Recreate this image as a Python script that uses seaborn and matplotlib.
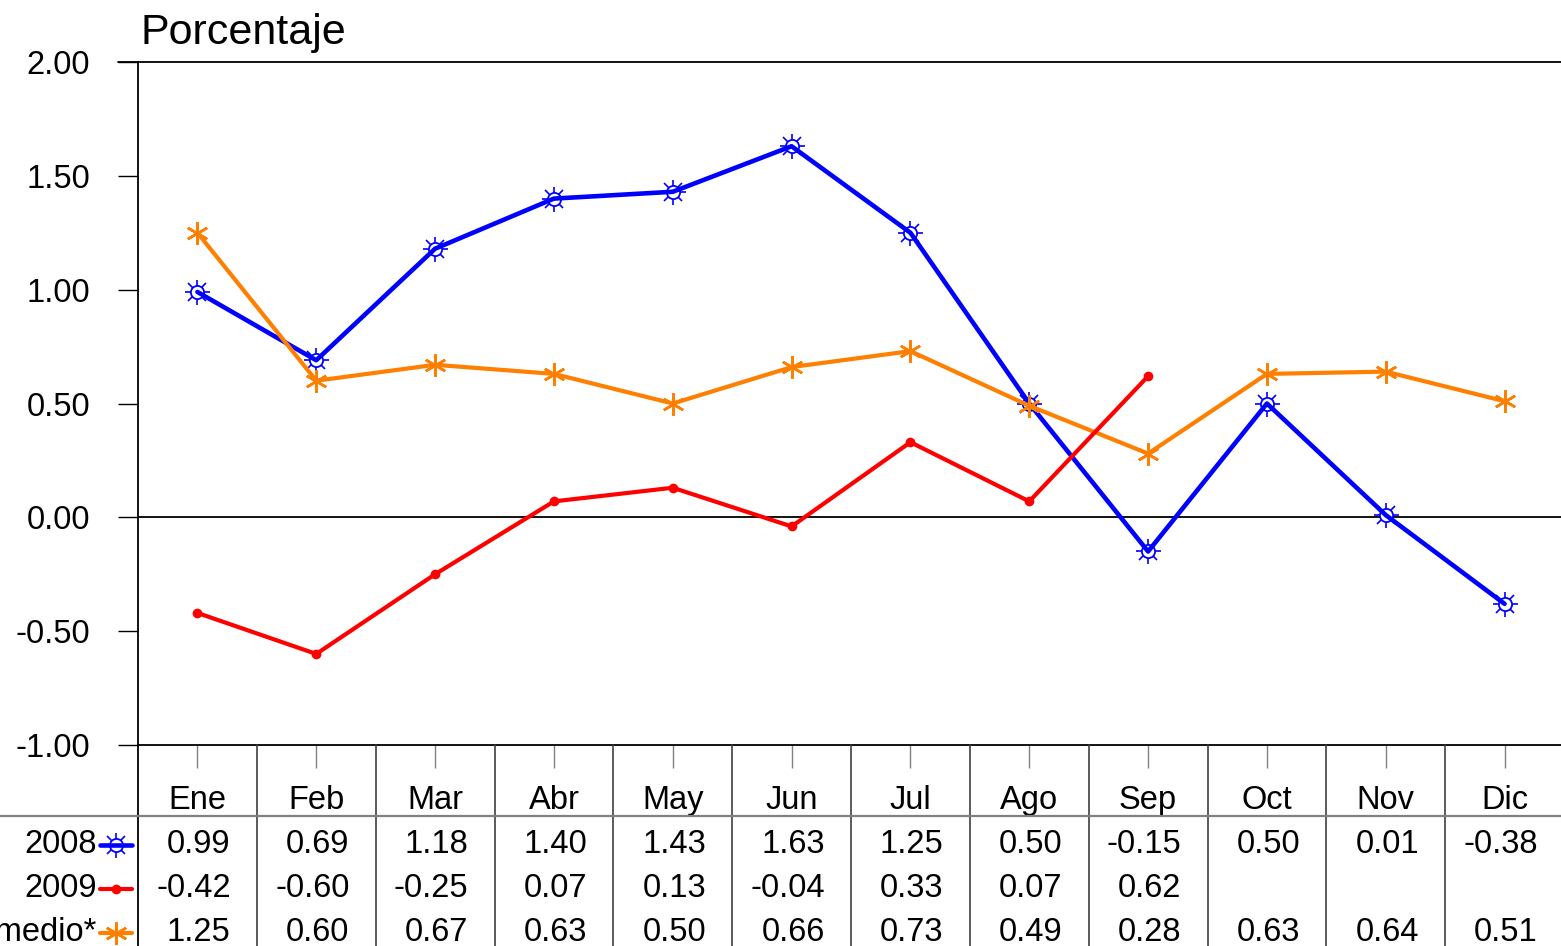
import numpy as np
import pandas as pd
import matplotlib
matplotlib.use("Agg")
import matplotlib.pyplot as plt
import seaborn as sns

# datos
meses = ['Ene', 'Feb', 'Mar', 'Abr', 'May', 'Jun', 'Jul', 'Ago', 'Sep', 'Oct', 'Nov', 'Dic']
v2008 = [0.99, 0.69, 1.18, 1.40, 1.43, 1.63, 1.25, 0.50, -0.15, 0.50, 0.01, -0.38]
v2009 = [-0.42, -0.60, -0.25, 0.07, 0.13, -0.04, 0.33, 0.07, 0.62, np.nan, np.nan, np.nan]
vmedio = [1.25, 0.60, 0.67, 0.63, 0.50, 0.66, 0.73, 0.49, 0.28, 0.63, 0.64, 0.51]
series = ['2008', '2009', 'Promedio*']
yticks = [-1.0, -0.5, 0.0, 0.5, 1.0, 1.5, 2.0]

sns.set_theme(style='white')
plt.rcParams['font.family'] = ['Liberation Sans', 'DejaVu Sans']
plt.rcParams['axes.unicode_minus'] = False
plt.rcParams['text.color'] = 'black'
plt.rcParams['xtick.labelcolor'] = 'black'
plt.rcParams['ytick.labelcolor'] = 'black'

AZUL = '#0000FF'
ROJO = '#FF0000'
NARANJA = '#FF8000'
FS = 23.5

df = pd.DataFrame({'x': np.arange(12), '2008': v2008, '2009': v2009, 'Promedio*': vmedio})

W, H = 1561, 946
fig = plt.figure(figsize=(W / 100, H / 100), dpi=100)
ax = fig.add_axes([138 / W, 1 - 745 / H, 1426 / W, 683 / H])


def marcador_sol(axis, x, y, z=1.5):
    axis.plot(x, y, ls='none', marker='+', ms=18, mew=1.2, color=AZUL, zorder=z)
    axis.plot(x, y, ls='none', marker='x', ms=12.5, mew=1.2, color=AZUL, zorder=z)
    axis.plot(x, y, ls='none', marker='o', ms=9.5, mew=1.3, mfc='white', mec=AZUL, zorder=z + 0.05)


def marcador_ast(axis, x, y, z=2.5):
    axis.plot(x, y, ls='none', marker=(6, 2, 0), ms=16, mew=1.8, color=NARANJA, zorder=z)


def marcador_pto(axis, x, y, z=2.5):
    axis.plot(x, y, ls='none', marker='o', ms=7, mew=0, color=ROJO, zorder=z)


# lineas
sns.lineplot(data=df, x='x', y='2008', ax=ax, color=AZUL, lw=3.3, zorder=2)
sns.lineplot(data=df, x='x', y='2009', ax=ax, color=ROJO, lw=3.0, zorder=2.2)
sns.lineplot(data=df, x='x', y='Promedio*', ax=ax, color=NARANJA, lw=3.0, zorder=2.1)
marcador_sol(ax, df['x'], df['2008'])
marcador_pto(ax, df['x'], df['2009'])
marcador_ast(ax, df['x'], df['Promedio*'])

ax.axhline(0, color='black', lw=1.3, zorder=1)
ax.set_xlim(-0.5, 11.5)
ax.set_ylim(-1, 2)
ax.set_yticks(yticks)
ax.set_yticklabels([f'{t:.2f}' for t in yticks])
ax.set_xticks(range(12))
ax.set_xticklabels(meses)
ax.set_xlabel('')
ax.set_ylabel('')
for s in ['left', 'top', 'bottom']:
    ax.spines[s].set_visible(True)
    ax.spines[s].set_color('black')
    ax.spines[s].set_linewidth(1.3)
ax.spines['right'].set_visible(False)
ax.tick_params(axis='y', direction='out', length=14.5, width=1, color='black',
               pad=20, labelsize=FS, labelcolor='black', left=True)
ax.tick_params(axis='x', direction='out', length=16.5, width=1, color='#808080',
               pad=12, labelsize=FS, labelcolor='black', bottom=True)
# la marca de 2.00 se prolonga como borde superior
ax.plot([-0.5 - 20 / 118.8, -0.5], [2, 2], color='black', lw=1.3, clip_on=False)

fig.text(140 / W, 1 - 44 / H, 'Porcentaje', fontsize=31, va='baseline', ha='left',
         color='black')

# tabla de datos
tax = fig.add_axes([138 / W, 0, 1426 / W, 201 / H])
tax.set_xlim(-0.5, 11.5)
tax.set_ylim(-4.568, 0)
tax.axis('off')
for b in np.arange(0.5, 11.5, 1):
    tax.plot([b, b], [-4.568, 0], color='#404040', lw=1.2)
tax.plot([-0.5, -0.5], [-4.568, 0], color='black', lw=1.3)
tax.plot([-1.7, 11.5], [-1.614, -1.614], color='#808080', lw=1.6, clip_on=False)

filas = [-2.27, -3.27, -4.27]
valores = [v2008, v2009, vmedio]
for fila, nombre, vals in zip(filas, series, valores):
    tax.text(-0.845, fila, nombre, fontsize=FS, ha='right', va='center', clip_on=False,
             color='black')
    for i, v in enumerate(vals):
        if not np.isnan(v):
            tax.text(i + 0.28, fila, f'{v:.2f}', fontsize=FS, ha='right', va='center',
                     color='black')

# muestras de leyenda
xs = [-0.82, -0.55]
tax.plot(xs, [filas[0]] * 2, color=AZUL, lw=3.3, zorder=3)
marcador_sol(tax, [-0.685], [filas[0]], z=2.5)
tax.plot(xs, [filas[1]] * 2, color=ROJO, lw=3.0, zorder=3)
marcador_pto(tax, [-0.685], [filas[1]], z=3.1)
tax.plot(xs, [filas[2]] * 2, color=NARANJA, lw=3.0, zorder=3)
marcador_ast(tax, [-0.685], [filas[2]], z=3.1)
for ln in tax.lines:
    ln.set_clip_on(False)

fig.savefig('out.png', dpi=100)
